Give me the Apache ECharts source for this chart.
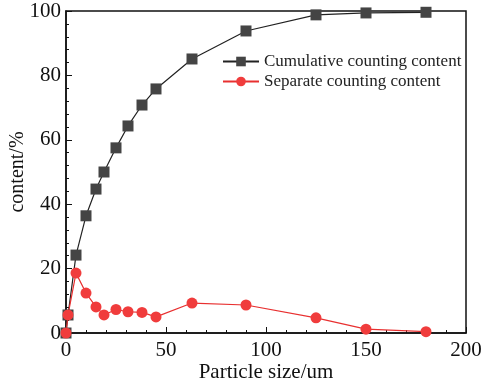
<!DOCTYPE html>
<html>
<head>
<meta charset="utf-8">
<script src="https://cdn.jsdelivr.net/npm/echarts@6/dist/echarts.min.js"></script>
<style>
  html, body { margin: 0; padding: 0; background: #fff; }
  #chart { width: 484px; height: 387px; }
</style>
</head>
<body>
<div id="chart"></div>
<script>
// particle size (um)
const sizes = [0, 1, 5, 10, 15, 19, 25, 31, 38, 45, 63, 90, 125, 150, 180];
const cumulative = [0, 5.6, 24.2, 36.4, 44.7, 50.0, 57.5, 64.3, 70.8, 75.8, 85.1, 93.8, 98.8, 99.4, 99.6];
const separate = [0, 5.6, 18.6, 12.4, 8.1, 5.6, 7.3, 6.6, 6.4, 5.0, 9.3, 8.7, 4.7, 1.2, 0.4];

const font = '"Liberation Serif", "Times New Roman", serif';

const chart = echarts.init(document.getElementById('chart'));

const option = {
  animation: false,
  grid: {
    left: 66, right: 18, top: 11, bottom: 54,
    outerBoundsMode: 'none',
    containLabel: false,
    show: true,
    borderColor: '#111',
    borderWidth: 1.5
  },
  legend: {
    left: 217,
    top: 48,
    orient: 'vertical',
    itemWidth: 36,
    itemHeight: 12,
    itemGap: 3,
    textStyle: { fontFamily: font, fontSize: 17, color: '#222' },
    data: ['Cumulative counting content', 'Separate counting content']
  },
  xAxis: {
    type: 'value',
    min: 0, max: 200, interval: 50,
    name: 'Particle size/um',
    nameLocation: 'middle',
    nameMoveOverlap: false,
    nameGap: 29,
    nameTextStyle: { fontFamily: font, fontSize: 21, color: '#111' },
    axisLine: { lineStyle: { color: '#111', width: 1.5 } },
    axisTick: { inside: true, length: 6, lineStyle: { color: '#111' } },
    minorTick: { show: true, splitNumber: 5, length: 3, lineStyle: { color: '#111' } },
    axisLabel: { fontFamily: font, fontSize: 21, color: '#111', margin: 7 },
    splitLine: { show: false }
  },
  yAxis: {
    type: 'value',
    min: 0, max: 100, interval: 20,
    name: 'content/%',
    nameLocation: 'middle',
    nameMoveOverlap: false,
    nameGap: 38,
    nameTextStyle: { fontFamily: font, fontSize: 20, color: '#111' },
    axisLine: { show: true, lineStyle: { color: '#111', width: 1.5 } },
    axisTick: { show: true, inside: true, length: 6, lineStyle: { color: '#111' } },
    minorTick: { show: true, splitNumber: 5, length: 3, lineStyle: { color: '#111' } },
    axisLabel: { fontFamily: font, fontSize: 21, color: '#111', margin: 5 },
    splitLine: { show: false }
  },
  series: [
    {
      name: 'Cumulative counting content',
      type: 'line',
      data: sizes.map((s, i) => [s, cumulative[i]]),
      symbol: 'rect',
      symbolSize: 11,
      itemStyle: { color: '#444' },
      lineStyle: { color: '#222', width: 1.2 }
    },
    {
      name: 'Separate counting content',
      type: 'line',
      data: sizes.map((s, i) => [s, separate[i]]),
      symbol: 'circle',
      symbolSize: 11,
      itemStyle: { color: '#f03c3c' },
      lineStyle: { color: '#e83030', width: 1.2 }
    }
  ]
};

chart.setOption(option);
</script>
</body>
</html>
